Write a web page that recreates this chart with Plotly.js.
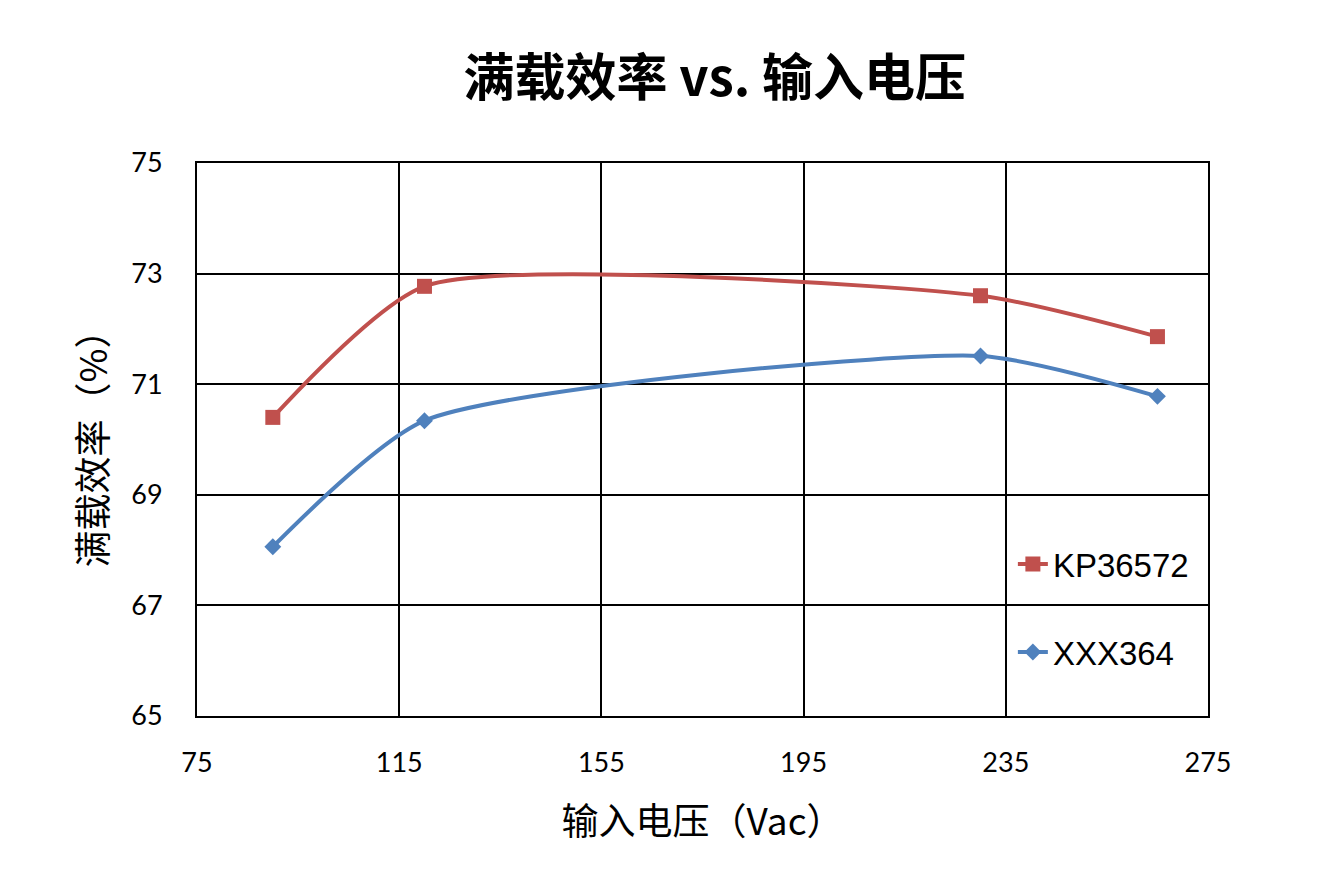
<!DOCTYPE html>
<html>
<head>
<meta charset="utf-8">
<script src="https://cdn.plot.ly/plotly-3.0.1.min.js"></script>
<style>
  html, body { margin: 0; padding: 0; background: #fff; }
  #chart { width: 1341px; height: 870px; }
</style>
</head>
<body>
<div id="chart"></div>
<script>
// 输入电压 (Vac)
const voltage = [90, 120, 230, 265];
// 满载效率 (%)
const kp36572 = [70.4, 72.77, 72.6, 71.86];
const xxx364 = [68.06, 70.34, 71.51, 70.78];

const xTicks = [75, 115, 155, 195, 235, 275];
const yTicks = [65, 67, 69, 71, 73, 75];

const cjk = '"Noto Sans CJK SC", "Liberation Sans", sans-serif';
const tickFont = 'Lato, "Liberation Sans", sans-serif';

const traces = [
	{
		x: voltage,
		y: kp36572,
		name: 'KP36572',
		legendgroup: 'a',
		mode: 'lines+markers',
		line: { color: '#C0504D', width: 4, shape: 'spline', smoothing: 0.62 },
		marker: { symbol: 'square', size: 15, color: '#C0504D' }
	},
	{
		x: voltage,
		y: xxx364,
		name: 'XXX364',
		legendgroup: 'b',
		mode: 'lines+markers',
		line: { color: '#4F81BD', width: 4, shape: 'spline', smoothing: 0.62 },
		marker: { symbol: 'diamond', size: 13, color: '#4F81BD' }
	}
];

const layout = {
	width: 1341,
	height: 870,
	paper_bgcolor: '#fff',
	plot_bgcolor: '#fff',
	margin: { l: 197, r: 133, t: 163, b: 154 },
	title: {
		text: '<b>满载效率 vs. 输入电压</b>',
		font: { family: cjk, size: 51, color: '#000' },
		x: 0.533,
		xanchor: 'center',
		y: 0.91,
		yanchor: 'middle'
	},
	xaxis: {
		range: [75, 275],
		tickvals: xTicks,
		ticktext: xTicks.map(String),
		showgrid: true,
		gridcolor: '#000',
		gridwidth: 2,
		zeroline: false,
		showline: true,
		linecolor: '#000',
		linewidth: 2,
		mirror: true,
		ticks: '',
		ticklabelstandoff: 22,
		tickfont: { family: tickFont, size: 27, color: '#000' },
		title: {
			text: '输入电压（Vac）',
			font: { family: cjk, size: 37, color: '#000' },
			standoff: 32
		}
	},
	yaxis: {
		range: [65, 75],
		tickvals: yTicks,
		ticktext: yTicks.map(String),
		showgrid: true,
		gridcolor: '#000',
		gridwidth: 2,
		zeroline: false,
		showline: true,
		linecolor: '#000',
		linewidth: 2,
		mirror: true,
		ticks: '',
		ticklabelstandoff: 27,
		tickfont: { family: tickFont, size: 27, color: '#000' },
		title: {
			text: '满载效率（%）',
			font: { family: cjk, size: 37, color: '#000' },
			standoff: 12
		}
	},
	legend: {
		x: 0.807,
		xanchor: 'left',
		y: 0.195,
		yanchor: 'middle',
		bgcolor: 'rgba(0,0,0,0)',
		font: { family: '"Liberation Sans", Arial, sans-serif', size: 33, color: '#000' },
		tracegroupgap: 42,
		itemwidth: 30
	},
	showlegend: true
};

Plotly.newPlot('chart', traces, layout, { displayModeBar: false, staticPlot: true });
</script>
</body>
</html>
